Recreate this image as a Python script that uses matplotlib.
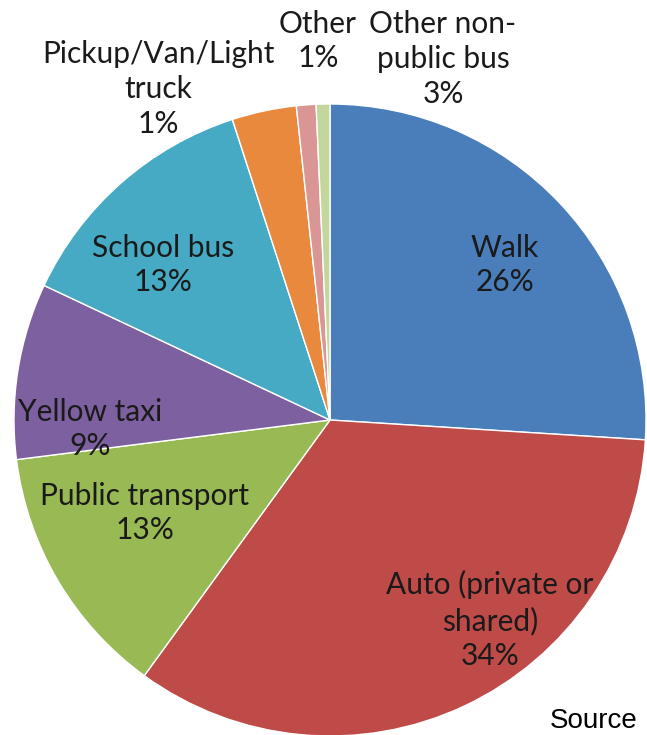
import matplotlib.pyplot as plt

# slice values (clockwise from 12 o'clock)
modes = ['Walk', 'Auto (private or shared)', 'Public transport', 'Yellow taxi',
         'School bus', 'Pickup/Van/Light truck', 'Other', 'Other non-public bus']
shares = [26, 34, 13, 9, 13, 3.3, 1.0, 0.7]
colors = ['#4A7EBB', '#BE4B48', '#98B954', '#7D60A0', '#46AAC5',
          '#E8893E', '#D99694', '#C3D69B']

# label text as printed on the chart, with centre positions in pixels
label_text = ['Walk\n26%', 'Auto (private or\nshared)\n34%', 'Public transport\n13%',
              'Yellow taxi\n9%', 'School bus\n13%', 'Pickup/Van/Light\ntruck\n1%',
              'Other\n1%', 'Other non-\npublic bus\n3%']
label_pos = [(505, 265), (490, 620), (145, 513), (90, 429), (163, 265),
             (158, 89), (318, 41), (443, 59)]

W, H = 647, 735
fig = plt.figure(figsize=(W / 100, H / 100), dpi=100)
ax = fig.add_axes([0, 0, 1, 1])

ax.pie(shares, colors=colors, startangle=90, counterclock=False,
       center=(330, H - 420), radius=316,
       wedgeprops=dict(edgecolor='white', linewidth=1.0))
ax.set_xlim(0, W)
ax.set_ylim(0, H)
ax.set_aspect('equal')
ax.axis('off')

for txt, (x, y) in zip(label_text, label_pos):
    ax.text(x, H - y, txt, ha='center', va='center', fontsize=21.5,
            family='Lato', color='#1a1a1a', linespacing=1.3)

ax.text(550, H - 721, 'Source', ha='left', va='center', fontsize=20,
        family='Liberation Sans', color='black')

fig.savefig('out.png', dpi=100, facecolor='white')
